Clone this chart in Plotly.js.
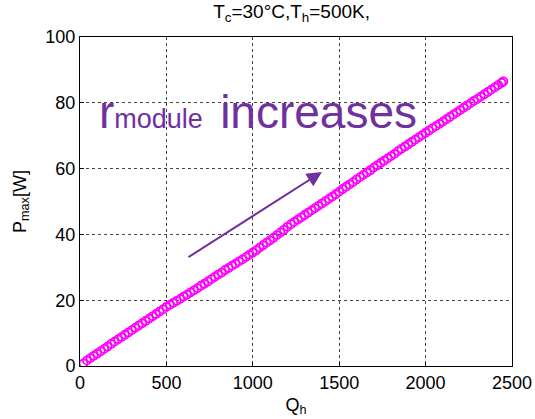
<!DOCTYPE html>
<html>
<head>
<meta charset="utf-8">
<script src="https://cdn.plot.ly/plotly-3.0.1.min.js"></script>
<style>html,body{margin:0;padding:0;background:#fff;}#chart{width:535px;height:419px;}</style>
</head>
<body>
<div id="chart"></div>
<script>
// Heat input Q_h (x) and maximum power P_max [W] (y)
const Qh = [20,40,60,80,100,120,140,160,180,200,220,240,260,280,300,320,340,360,380,400,
  420,440,460,480,500,520,540,560,580,600,620,640,660,680,700,720,740,760,780,800,
  820,840,860,880,900,920,940,960,980,1000,1020,1040,1060,1080,1100,1120,1140,1160,1180,1200,
  1220,1240,1260,1280,1300,1320,1340,1360,1380,1400,1420,1440,1460,1480,1500,1520,1540,1560,1580,1600,
  1620,1640,1660,1680,1700,1720,1740,1760,1780,1800,1820,1840,1860,1880,1900,1920,1940,1960,1980,2000,
  2020,2040,2060,2080,2100,2120,2140,2160,2180,2200,2220,2240,2260,2280,2300,2320,2340,2360,2380,2400,
  2420,2440,2450];
const Pmax = [0.8,1.7,2.4,3.1,3.8,4.5,5.2,5.9,6.7,7.4,8.1,8.8,9.5,10.2,10.9,11.6,12.3,13.0,13.7,14.4,
  15.1,15.8,16.5,17.2,18.0,18.6,19.2,19.8,20.4,21.1,21.7,22.4,23.0,23.7,24.4,25.0,25.7,26.4,27.1,27.8,
  28.4,29.2,29.8,30.5,31.1,31.8,32.4,33.1,33.8,34.5,35.2,36.0,36.7,37.5,38.2,39.0,39.8,40.6,41.4,42.3,
  43.1,43.8,44.5,45.2,45.9,46.6,47.3,48.0,48.7,49.4,50.1,50.8,51.5,52.2,53.0,53.8,54.5,55.2,55.9,56.7,
  57.4,58.1,58.8,59.5,60.3,61.0,61.7,62.4,63.1,63.8,64.5,65.3,66.0,66.7,67.4,68.1,68.8,69.5,70.2,70.9,
  71.6,72.3,72.9,73.6,74.3,75.0,75.7,76.4,77.1,77.8,78.5,79.2,79.9,80.6,81.2,81.9,82.6,83.3,84.0,84.7,
  85.4,86.1,86.5];

const xTicks = [0,500,1000,1500,2000,2500];
const yTicks = [0,20,40,60,80,100];

const purple = '#7030a0';
const fontFam = '"Liberation Sans", Arial, sans-serif';

const trace = {
  x: Qh, y: Pmax, type: 'scatter', mode: 'markers',
  marker: {symbol: 'circle-open', size: 8, color: '#ff00ff', line: {width: 1.8, color: '#ff00ff'}},
  hoverinfo: 'skip'
};

const axisCommon = {
  showline: true, linecolor: '#000', linewidth: 1, mirror: true,
  showgrid: true, gridcolor: '#444', griddash: '3px,3px', gridwidth: 1,
  zeroline: false, ticks: 'inside', ticklen: 4, tickcolor: '#000',
  tickfont: {family: fontFam, size: 18, color: '#000'}
};

const layout = {
  width: 535, height: 419,
  margin: {l: 80, r: 23, t: 37, b: 53},
  paper_bgcolor: '#fff', plot_bgcolor: '#fff',
  showlegend: false,
  font: {family: fontFam, color: '#000'},
  title: {text: 'T<sub>c</sub>=30°C,T<sub>h</sub>=500K,', font: {family: fontFam, size: 19, color: '#000'},
          x: 0.545, xanchor: 'center', y: 0.972, yanchor: 'middle'},
  xaxis: Object.assign({}, axisCommon, {
    range: [0, 2500], tickvals: xTicks, ticktext: xTicks.map(String),
    title: {text: 'Q<sub>h</sub>', font: {family: fontFam, size: 18, color: '#000'}, standoff: 6}
  }),
  yaxis: Object.assign({}, axisCommon, {
    range: [0, 100], tickvals: yTicks, ticktext: yTicks.map(String),
    title: {text: 'P<sub>max</sub>[W]', font: {family: fontFam, size: 18, color: '#000'}, standoff: 14}
  }),
  annotations: [
    {x: 100, y: 77.2, xref: 'x', yref: 'y', xanchor: 'left', yanchor: 'middle', showarrow: false,
     text: 'r<span style="font-size:27px">module</span> <span style="font-size:16px"> </span>increases',
     font: {family: fontFam, size: 46, color: purple}},
    {x: 1400, y: 59, ax: 619, ay: 32.8, xref: 'x', yref: 'y', axref: 'x', ayref: 'y',
     text: '', showarrow: true, arrowhead: 2, arrowsize: 1.5, arrowwidth: 2, arrowcolor: purple}
  ]
};

Plotly.newPlot('chart', [trace], layout, {displayModeBar: false, staticPlot: true});
</script>
</body>
</html>
